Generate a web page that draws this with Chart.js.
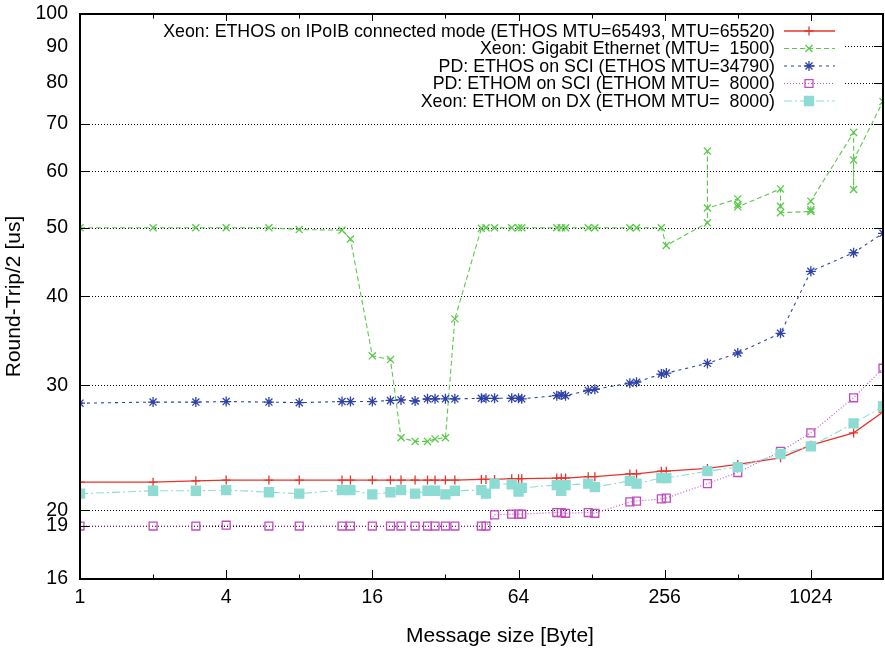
<!DOCTYPE html>
<html>
<head>
<meta charset="utf-8">
<script src="https://cdn.jsdelivr.net/npm/chart.js@4.4.1/dist/chart.umd.min.js"></script>
<style>
  html, body { margin: 0; padding: 0; background: #fff; }
</style>
</head>
<body>
<canvas id="rtt" width="885" height="656"></canvas>
<script>
// message sizes shared by the IPoIB, SCI and DX runs
const msgSizes = [1, 2, 3, 4, 6, 8, 12, 13, 16, 19, 21, 24, 27, 29, 32, 35, 45, 47, 51, 60, 64, 66,
  92, 96, 100, 124, 132, 184, 196, 248, 260, 384, 512, 768, 1024, 1536, 2030];

const ipoibRtt = [21.9, 21.9, 22.0, 22.05, 22.05, 22.05, 22.05, 22.05, 22.05, 22.05, 22.05, 22.05, 22.05, 22.05, 22.05, 22.05,
  22.1, 22.1, 22.1, 22.15, 22.15, 22.15, 22.2, 22.2, 22.2, 22.3, 22.3, 22.5, 22.5, 22.7, 22.7, 22.9, 23.2, 23.7, 24.7, 25.7, 27.5];

const sciEthosRtt = [28.3, 28.4, 28.4, 28.45, 28.4, 28.35, 28.45, 28.45, 28.45, 28.55, 28.6, 28.5, 28.7, 28.7, 28.7, 28.7,
  28.75, 28.75, 28.75, 28.75, 28.75, 28.7, 29.0, 29.05, 29.0, 29.5, 29.6, 30.2, 30.3, 31.1, 31.2, 32.2, 33.3, 35.5, 43.4, 46.1, 49.1];

const sciEthomRtt = [19.0, 19.0, 19.0, 19.05, 19.0, 19.0, 19.0, 19.0, 19.0, 19.0, 19.0, 19.0, 19.0, 19.0, 19.0, 19.0,
  19.0, 19.0, 19.7, 19.75, 19.75, 19.75, 19.85, 19.85, 19.8, 19.85, 19.8, 20.55, 20.6, 20.75, 20.8, 21.8, 22.6, 24.2, 25.7, 28.8, 31.7];

const dxEthomRtt = [21.1, 21.3, 21.3, 21.35, 21.2, 21.1, 21.35, 21.35, 21.05, 21.2, 21.35, 21.1, 21.3, 21.3, 21.05, 21.3,
  21.35, 21.1, 21.8, 21.75, 21.25, 21.5, 21.7, 21.3, 21.7, 21.8, 21.55, 22.0, 21.8, 22.2, 22.2, 22.7, 23.0, 24.0, 24.6, 26.5, 28.0];

// gigabit ethernet has repeated runs at the larger sizes
const gigeSizes = [1, 2, 3, 4, 6, 8, 12, 13, 16, 19, 21, 24, 27, 29, 32, 35, 45, 47, 51, 60, 64, 66,
  92, 96, 100, 124, 132, 184, 196, 248, 260, 384, 384, 384, 512, 512, 512, 768, 768, 768,
  1024, 1024, 1024, 1536, 1536, 1536, 2030];
const gigeRtt = [50, 50, 50, 50, 50, 49.7, 49.6, 48.2, 33.0, 32.6, 25.3, 25.0, 25.0, 25.2, 25.3, 37.2, 49.9, 50, 50, 50, 50, 50,
  50, 50, 50, 50, 50, 50, 50, 50, 47.2, 50.8, 64.1, 53.3, 54.9, 53.9, 53.5, 56.7, 53.6, 52.5,
  52.7, 53.0, 54.5, 68.1, 56.6, 62.3, 75.3];

const seriesNames = [
  'Xeon: ETHOS on IPoIB connected mode (ETHOS MTU=65493, MTU=65520)',
  'Xeon: Gigabit Ethernet (MTU=  1500)',
  'PD: ETHOS on SCI (ETHOS MTU=34790)',
  'PD: ETHOM on SCI (ETHOM MTU=  8000)',
  'Xeon: ETHOM on DX (ETHOM MTU=  8000)'
];

const xTickLabels = [1, 4, 16, 64, 256, 1024];
const xMinorTicks = [2, 8, 32, 128, 512];
const yTickLabels = [16, 19, 20, 30, 40, 50, 60, 70, 80, 90, 100];

const FONT = 'Liberation Sans, Arial, Helvetica, sans-serif';

function pts(xs, ys) {
    return xs.map((x, i) => ({ x: x, y: ys[i] }));
}

const styles = [
    { color: '#e8342c', dash: [], point: 'cross', radius: 4.5, fill: false, width: 1.3 },
    { color: '#5cc94c', dash: [5, 3], point: 'crossRot', radius: 5, fill: false, width: 1.1 },
    { color: '#2e42a6', dash: [3, 4], point: 'star', radius: 5, fill: false, width: 1.1 },
    { color: '#c04cbf', dash: [1, 2], point: 'rect', radius: 5.6, fill: false, width: 1.1 },
    { color: '#8ddcd4', dash: [8, 3, 2, 3], point: 'rect', radius: 6.4, fill: true, width: 1.1 }
];

const seriesData = [
    pts(msgSizes, ipoibRtt),
    pts(gigeSizes, gigeRtt),
    pts(msgSizes, sciEthosRtt),
    pts(msgSizes, sciEthomRtt),
    pts(msgSizes, dxEthomRtt)
];

const datasets = seriesData.map((data, i) => {
    const s = styles[i];
    return {
        label: seriesNames[i],
        data: data,
        showLine: true,
        borderColor: s.color,
        backgroundColor: s.fill ? s.color : 'rgba(0,0,0,0)',
        borderWidth: s.width,
        borderDash: s.dash,
        pointStyle: s.point,
        pointRadius: s.radius,
        pointBorderWidth: 1.3,
        pointBorderColor: s.color,
        pointBackgroundColor: s.fill ? s.color : 'rgba(0,0,0,0)',
        order: 5 - i,
        tension: 0
    };
});

// gnuplot-like frame, grid, ticks and key
const gnuFrame = {
    id: 'gnuFrame',
    beforeDatasetsDraw(chart) {
        const { ctx, chartArea: a, scales: { y } } = chart;
        ctx.save();
        ctx.strokeStyle = '#000';
        ctx.lineWidth = 1;
        ctx.setLineDash([1, 2]);
        yTickLabels.forEach(v => {
            if (v <= 16 || v >= 100) return;
            const py = Math.round(y.getPixelForValue(v)) + 0.5;
            ctx.beginPath();
            ctx.moveTo(a.left, py);
            ctx.lineTo(a.right, py);
            ctx.stroke();
        });
        ctx.restore();
    },
    afterDatasetsDraw(chart) {
        const { ctx, chartArea: a, scales: { x, y } } = chart;
        ctx.save();
        ctx.strokeStyle = '#000';
        ctx.lineWidth = 1;
        ctx.setLineDash([]);
        const tick = (x1, y1, x2, y2) => {
            ctx.beginPath();
            ctx.moveTo(x1, y1);
            ctx.lineTo(x2, y2);
            ctx.stroke();
        };
        xTickLabels.forEach(v => {
            const px = Math.round(x.getPixelForValue(v)) + 0.5;
            tick(px, a.bottom, px, a.bottom - 9);
            tick(px, a.top, px, a.top + 9);
        });
        xMinorTicks.forEach(v => {
            const px = Math.round(x.getPixelForValue(v)) + 0.5;
            tick(px, a.bottom, px, a.bottom - 4.5);
            tick(px, a.top, px, a.top + 4.5);
        });
        yTickLabels.forEach(v => {
            const py = Math.round(y.getPixelForValue(v)) + 0.5;
            tick(a.left, py, a.left + 9, py);
            tick(a.right, py, a.right - 9, py);
        });

        // opaque key box, then the key itself
        ctx.fillStyle = '#fff';
        ctx.fillRect(a.left + 1, a.top + 7, 843 - a.left, 89);
        ctx.font = '17.8px ' + FONT;
        ctx.textAlign = 'right';
        ctx.textBaseline = 'middle';
        seriesNames.forEach((name, i) => {
            const s = styles[i];
            const ky = a.top + 17 + i * 17.5;
            ctx.fillStyle = '#000';
            ctx.fillText(name, 775, ky + 1);
            ctx.strokeStyle = s.color;
            ctx.lineWidth = s.width;
            ctx.setLineDash(s.dash);
            ctx.beginPath();
            ctx.moveTo(784, ky);
            ctx.lineTo(835, ky);
            ctx.stroke();
            ctx.setLineDash([]);
            ctx.lineWidth = 1.3;
            ctx.fillStyle = s.fill ? s.color : 'rgba(0,0,0,0)';
            Chart.helpers.drawPoint(ctx, { pointStyle: s.point, radius: s.radius, rotation: 0, borderWidth: 1.3 }, 809, ky);
        });

        ctx.strokeStyle = '#000';
        ctx.lineWidth = 2;
        ctx.strokeRect(a.left, a.top, a.right - a.left, a.bottom - a.top);

        // x axis title, placed like gnuplot does
        ctx.fillStyle = '#000';
        ctx.font = '21px ' + FONT;
        ctx.textAlign = 'center';
        ctx.textBaseline = 'middle';
        ctx.fillText('Message size [Byte]', 500, 636);
        ctx.restore();
    }
};

new Chart(document.getElementById('rtt'), {
    type: 'scatter',
    data: { datasets: datasets },
    plugins: [gnuFrame],
    options: {
        responsive: false,
        devicePixelRatio: 1,
        animation: false,
        layout: { autoPadding: false, padding: { top: 14, right: 2, left: 0, bottom: 0 } },
        plugins: {
            legend: { display: false },
            tooltip: { enabled: false }
        },
        scales: {
            x: {
                type: 'logarithmic',
                min: 1,
                max: 2030,
                afterBuildTicks: scale => { scale.ticks = xTickLabels.map(v => ({ value: v })); },
                afterFit: scale => {
                    scale.height = 77;
                    scale.paddingLeft = 0;
                    scale.paddingRight = 0;
                },
                grid: { display: false, drawTicks: false },
                border: { display: false },
                ticks: {
                    autoSkip: false,
                    maxRotation: 0,
                    padding: 7,
                    color: '#000',
                    font: { family: FONT, size: 19.5 },
                    callback: v => String(v)
                },
                title: { display: false }
            },
            y: {
                type: 'logarithmic',
                min: 16,
                max: 100,
                afterBuildTicks: scale => { scale.ticks = yTickLabels.map(v => ({ value: v })); },
                afterFit: scale => {
                    scale.width = 80;
                    scale.paddingTop = 0;
                    scale.paddingBottom = 0;
                },
                grid: { display: false, drawTicks: false },
                border: { display: false },
                ticks: {
                    autoSkip: false,
                    padding: 12,
                    color: '#000',
                    font: { family: FONT, size: 19.5 },
                    callback: v => String(v)
                },
                title: {
                    display: true,
                    text: 'Round-Trip/2 [us]',
                    color: '#000',
                    font: { family: FONT, size: 21 },
                    padding: { top: 2, bottom: 0 }
                }
            }
        }
    }
});
</script>
</body>
</html>
